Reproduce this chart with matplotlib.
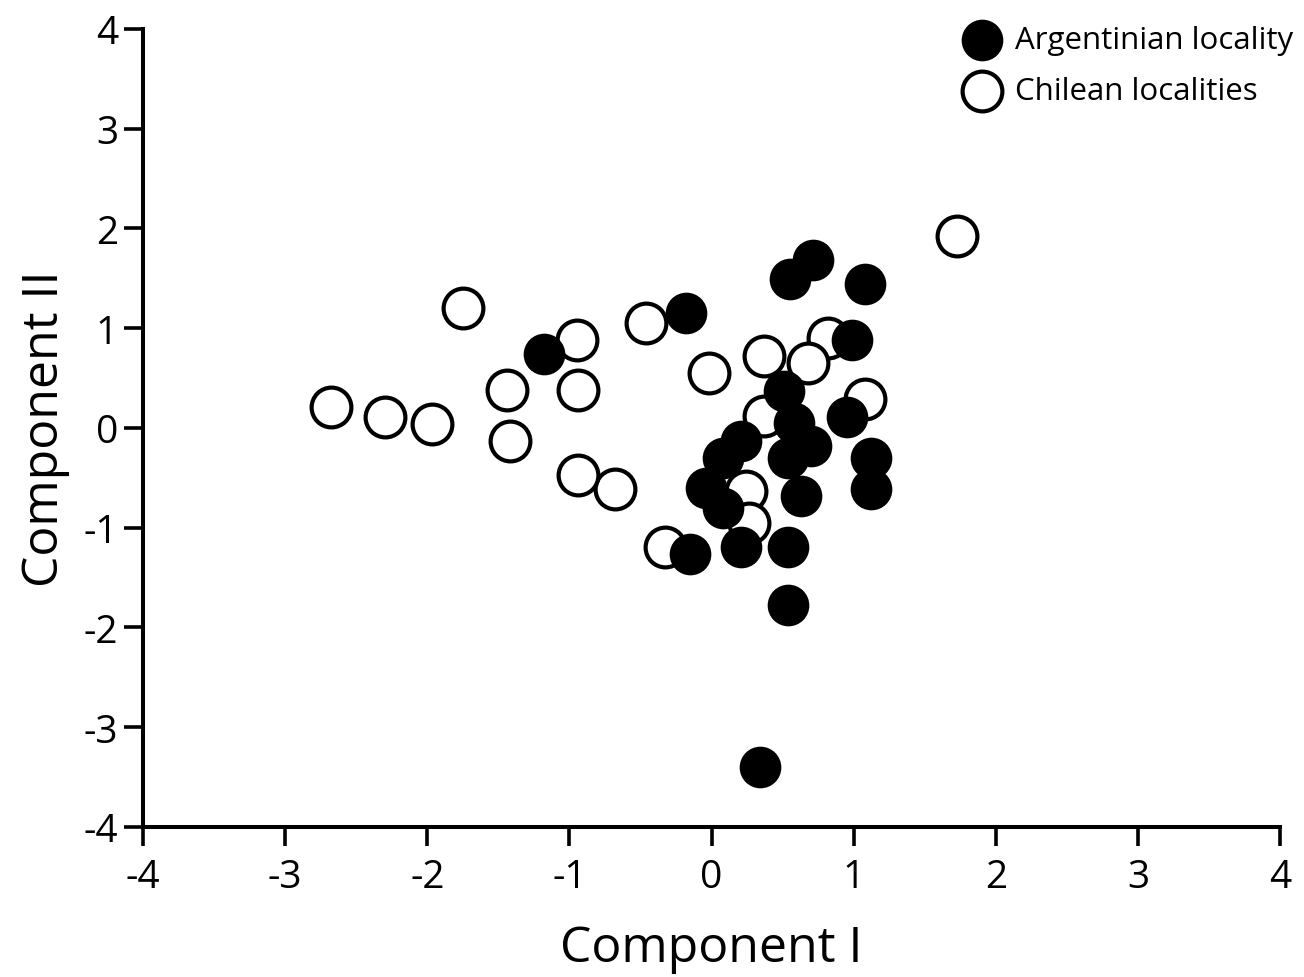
import numpy as np
import matplotlib.pyplot as plt

plt.rcParams['font.family'] = ['Open Sans', 'DejaVu Sans']
plt.rcParams['axes.unicode_minus'] = False

# Argentinian locality (filled)
arg_x = [0.71, 0.55, 1.08, -0.18, 0.99, 0.51, 0.58, 0.95, 0.21, 0.70, 0.54, 0.08,
         1.12, -0.04, 1.12, 0.63, 0.08, -0.15, 0.21, 0.54, 0.54, -1.18, 0.34]
arg_y = [1.68, 1.49, 1.44, 1.15, 0.88, 0.37, 0.05, 0.11, -0.13, -0.18, -0.30, -0.30,
         -0.30, -0.60, -0.61, -0.68, -0.80, -1.26, -1.19, -1.19, -1.77, 0.74, -3.40]

# Chilean localities (open)
chi_x = [-0.46, 0.37, 0.82, 0.68, -0.02, 1.08, 0.37, 0.24, 0.26, -0.33, -0.68,
         -1.75, -0.95, -1.44, -0.94, -2.68, -2.30, -1.97, -1.42, -0.94, 1.73]
chi_y = [1.05, 0.72, 0.90, 0.65, 0.55, 0.29, 0.12, -0.63, -0.95, -1.19, -0.61,
         1.20, 0.88, 0.38, 0.38, 0.21, 0.11, 0.04, -0.13, -0.47, 1.92]

fig = plt.figure(figsize=(13.04, 9.78), dpi=100)
ax = fig.add_axes([0.1097, 0.1534, 0.872, 0.816])

ax.scatter(chi_x, chi_y, s=820, facecolor='white', edgecolor='black',
           linewidths=3.0, label='Chilean localities', zorder=2)
ax.scatter(arg_x, arg_y, s=900, facecolor='black', edgecolor='black',
           linewidths=0, label='Argentinian locality', zorder=3)

ax.set_xlim(-4, 4)
ax.set_ylim(-4, 4)
ax.set_xticks(range(-4, 5))
ax.set_yticks(range(-4, 5))
ax.spines['top'].set_visible(False)
ax.spines['right'].set_visible(False)
for s in ['left', 'bottom']:
    ax.spines[s].set_linewidth(2.9)
ax.tick_params(axis='both', length=14, width=2.6, labelsize=28, pad=4)
ax.tick_params(axis='x', pad=8)

ax.set_xlabel('Component I', fontsize=36, labelpad=20)
ax.set_ylabel('Component II', fontsize=36, labelpad=10)

h, l = ax.get_legend_handles_labels()
leg = ax.legend(h[::-1], l[::-1], loc='upper right', bbox_to_anchor=(1.022, 1.02),
                frameon=False, fontsize=22.5, handletextpad=0.05, labelspacing=0.65,
                borderaxespad=0, markerscale=1.0)

fig.savefig('out.png', dpi=100)
